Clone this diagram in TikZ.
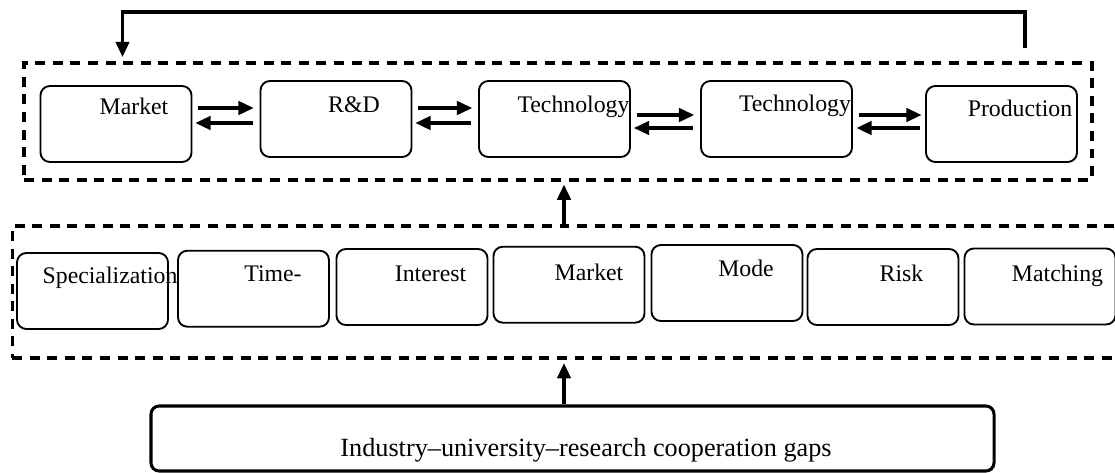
\documentclass[tikz,border=0pt]{standalone}
\usepackage{fontspec}
\setmainfont{Liberation Serif}
\usetikzlibrary{arrows.meta,calc}
\tikzset{arr/.style={line width=2.7pt,-{Triangle[length=13pt,width=11.5pt]}}}
\tikzset{box/.style={draw,rounded corners=8pt,line width=1.6pt,minimum width=4.53cm,minimum height=2.28cm,inner sep=0pt}}
\tikzset{dbox/.style={draw,line width=2.8pt,dash pattern=on 8.5pt off 6.5pt,inner sep=0pt}}
\tikzset{lbl/.style={anchor=base,inner sep=0pt,font=\fontsize{20.3}{24}\selectfont}}

\begin{document}
\begin{tikzpicture}[x=0.03cm,y=-0.03cm]
\path[use as bounding box,clip] (0,0) rectangle (1115,472);
% top row: innovation chain
\node (stage) at (558,121.5) [dbox,minimum width=32.04cm,minimum height=3.51cm] {};
\node (mkt) at (116,124) [box] {};
\node (rd) at (336,119) [box] {};
\node (tcA) at (554.5,119) [box] {};
\node (tcB) at (776.5,119) [box] {};
\node (prd) at (1001.5,124) [box] {};
\node (mktT) at (134,114) [lbl] {Market};
\node (rdT) at (354,112) [lbl] {R\&D};
\node (tcAT) at (573.5,112) [lbl] {Technology};
\node (tcBT) at (795,111) [lbl] {Technology};
\node (prdT) at (1020,116) [lbl] {Production};
\coordinate (ra) at (0,108);
\coordinate (la) at (0,123);
\coordinate (rb) at (0,115);
\coordinate (lb) at (0,128);
\draw[arr,shorten <=5pt,shorten >=5pt] (mkt.east |- ra) -- (rd.west |- ra);
\draw[arr,shorten <=6pt,shorten >=2.5pt] (rd.west |- la) -- (mkt.east |- la);
\draw[arr,shorten <=5pt,shorten >=5pt] (rd.east |- ra) -- (tcA.west |- ra);
\draw[arr,shorten <=6pt,shorten >=2.5pt] (tcA.west |- la) -- (rd.east |- la);
\draw[arr,shorten <=5pt,shorten >=5pt] (tcA.east |- rb) -- (tcB.west |- rb);
\draw[arr,shorten <=6pt,shorten >=2.5pt] (tcB.west |- lb) -- (tcA.east |- lb);
\draw[arr,shorten <=5pt,shorten >=3pt] (tcB.east |- rb) -- (prd.west |- rb);
\draw[arr,shorten <=4pt,shorten >=3pt] (prd.west |- lb) -- (tcB.east |- lb);
% feedback
\coordinate (fbs) at (1025,48);
\coordinate (fbe) at (122.5,57);
\draw[arr,line width=2.6pt] (fbs) -- ++(0,-36) -| (fbe);
% middle row: gaps
\node (fac) at (571,292) [dbox,minimum width=33.53cm,minimum height=3.96cm] {};
\node (spc) at (92.5,291) [box] {};
\node (tim) at (253.5,288.7) [box] {};
\node (itr) at (412,287) [box] {};
\node (mkb) at (569,284.7) [box] {};
\node (mod) at (727,283) [box] {};
\node (rsk) at (883,287) [box] {};
\node (mtc) at (1040,286.5) [box] {};
\node (spcT) at (110,283) [lbl] {Specialization};
\node (timT) at (273,281.7) [lbl] {Time-};
\node (itrT) at (430.5,281.7) [lbl] {Interest};
\node (mkbT) at (589,280) [lbl] {Market};
\node (modT) at (746,276.7) [lbl] {Mode};
\node (rskT) at (901.5,281) [lbl] {Risk};
\node (mtcT) at (1057.5,281.7) [lbl] {Matching};
% bottom
\node (bot) at (572.5,438.5) [box,line width=2.6pt,rounded corners=7pt,minimum width=25.29cm,minimum height=1.95cm] {};
\node (botT) at (586,456) [lbl,font=\fontsize{22.4}{26}\selectfont] {Industry--university--research cooperation gaps};
\coordinate (ax) at (564,0);
\draw[arr,shorten >=3pt] (bot.north -| ax) -- (fac.south -| ax);
\draw[arr,shorten >=2.5pt] (fac.north -| ax) -- (stage.south -| ax);
\end{tikzpicture}
\end{document}
